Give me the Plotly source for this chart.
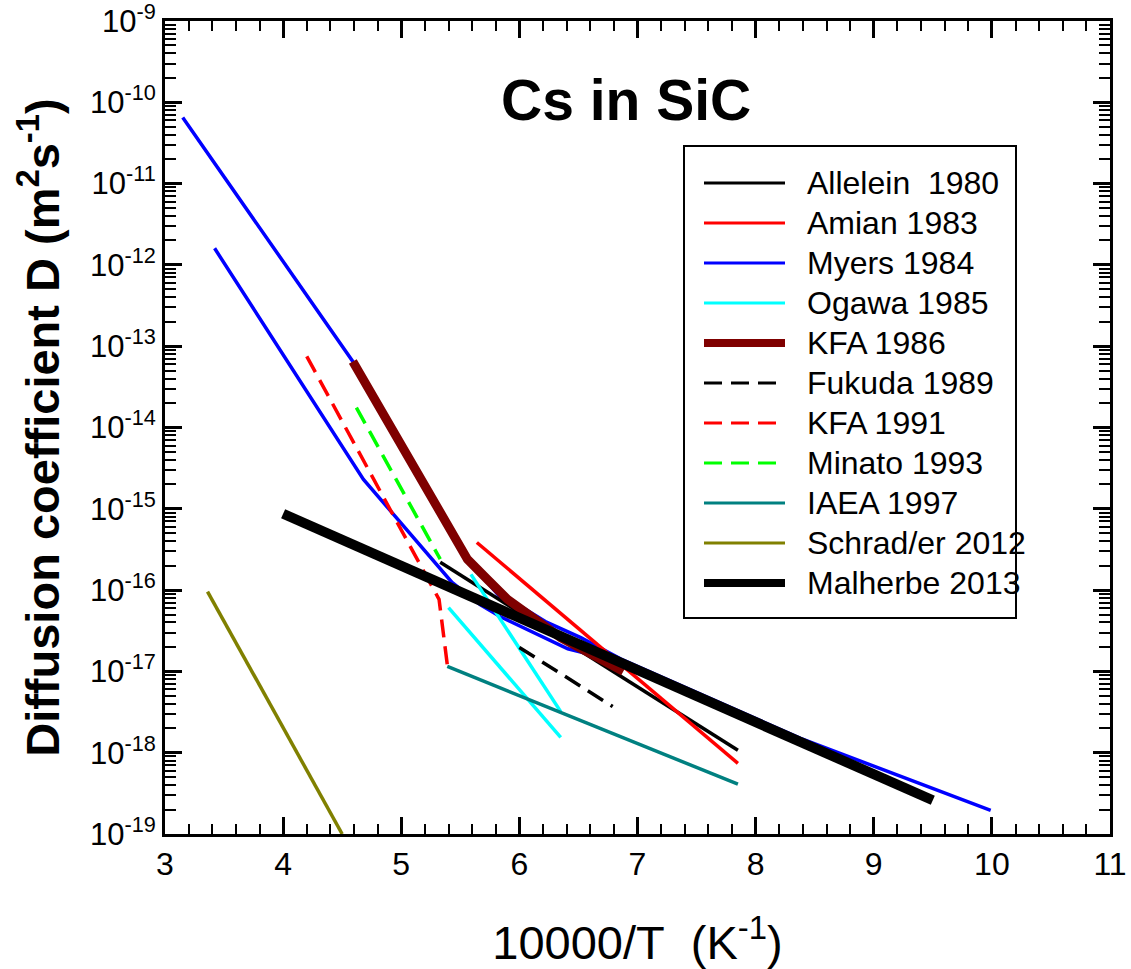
import plotly.graph_objects as go

# ---------------- data ----------------
allelein_x = [5.33, 7.85]
allelein_D = [2.2e-16, 1.07e-18]

amian_x = [5.64, 7.85]
amian_D = [3.85e-16, 7.4e-19]

myers_x = [3.15, 4.59, 5.56, 5.84, 6.01, 6.22, 6.52, 6.86, 8.38, 9.99, None,
           3.42, 4.68, 5.43, 5.67, 5.84, 6.12, 6.41, 6.69]
myers_D = [6.5e-11, 6.5e-14, 2.4e-16, 8.1e-17, 6.3e-17, 4.1e-17, 2.6e-17, 1.42e-17, 1.5e-18, 1.95e-19, None,
           1.6e-12, 2.3e-15, 1.24e-16, 6.6e-17, 4.7e-17, 3.0e-17, 1.9e-17, 1.5e-17]

ogawa_x = [5.59, 6.35, None, 5.40, 6.35]
ogawa_D = [1.56e-16, 3.2e-18, None, 6.1e-17, 1.54e-18]

kfa86_x = [4.59, 4.88, 5.19, 5.56, 5.73, 5.90, 6.35, 6.69, 6.88]
kfa86_D = [6.5e-14, 1.25e-14, 2.1e-15, 2.4e-16, 1.35e-16, 7.7e-17, 2.6e-17, 1.4e-17, 1.0e-17]

fukuda_x = [6.0, 6.79]
fukuda_D = [1.97e-17, 3.7e-18]

kfa91_x = [4.20, 5.32, 5.39]
kfa91_D = [7.5e-14, 7.7e-17, 1.2e-17]

minato_x = [4.62, 5.33]
minato_D = [1.76e-14, 2.4e-16]

iaea_x = [5.39, 7.85]
iaea_D = [1.15e-17, 4.1e-19]

schrad_x = [3.36, 4.5]
schrad_D = [9.6e-17, 1.0e-19]

malherbe_x = [4.0, 9.5]
malherbe_D = [8.7e-16, 2.6e-19]

series_names = ["Allelein\u00a0 1980", "Amian 1983", "Myers 1984", "Ogawa 1985", "KFA 1986",
                "Fukuda 1989", "KFA 1991", "Minato 1993", "IAEA 1997", "Schrad/er 2012",
                "Malherbe 2013"]

y_exponents = list(range(-19, -8))
x_ticks = [3, 4, 5, 6, 7, 8, 9, 10, 11]

# ---------------- styles ----------------
DASH = "18px,9px"
TH = 3.5
styles = {
    "Allelein\u00a0 1980": dict(color="#000000", width=TH, dash="solid"),
    "Amian 1983": dict(color="#FF0000", width=TH, dash="solid"),
    "Myers 1984": dict(color="#0000FF", width=TH, dash="solid"),
    "Ogawa 1985": dict(color="#00FFFF", width=TH, dash="solid"),
    "KFA 1986": dict(color="#7F0000", width=9, dash="solid"),
    "Fukuda 1989": dict(color="#000000", width=TH, dash=DASH),
    "KFA 1991": dict(color="#FF0000", width=TH, dash=DASH),
    "Minato 1993": dict(color="#00FF00", width=TH, dash=DASH),
    "IAEA 1997": dict(color="#008080", width=TH, dash="solid"),
    "Schrad/er 2012": dict(color="#808000", width=TH, dash="solid"),
    "Malherbe 2013": dict(color="#000000", width=10, dash="solid"),
}

data = {
    "Allelein\u00a0 1980": (allelein_x, allelein_D),
    "Amian 1983": (amian_x, amian_D),
    "Myers 1984": (myers_x, myers_D),
    "Ogawa 1985": (ogawa_x, ogawa_D),
    "KFA 1986": (kfa86_x, kfa86_D),
    "Fukuda 1989": (fukuda_x, fukuda_D),
    "KFA 1991": (kfa91_x, kfa91_D),
    "Minato 1993": (minato_x, minato_D),
    "IAEA 1997": (iaea_x, iaea_D),
    "Schrad/er 2012": (schrad_x, schrad_D),
    "Malherbe 2013": (malherbe_x, malherbe_D),
}

draw_order = ["Myers 1984", "Allelein\u00a0 1980", "Amian 1983", "Ogawa 1985", "Fukuda 1989",
              "KFA 1991", "Minato 1993", "IAEA 1997", "Schrad/er 2012", "KFA 1986", "Malherbe 2013"]

FONT = "Liberation Sans, Arial, Helvetica, sans-serif"

fig = go.Figure()
for name in draw_order:
    xs, ds = data[name]
    st = styles[name]
    fig.add_trace(go.Scatter(x=xs, y=ds, mode="lines", name=name, showlegend=False,
                             connectgaps=False,
                             line=dict(color=st["color"], width=st["width"], dash=st["dash"])))

# ---------------- layout ----------------
W, H = 1131, 969
ML, MR, MT, MB = 165, 21, 21, 135
PW, PH = W - ML - MR, H - MT - MB


def px2paper_x(px):
    return (px - ML) / PW


def px2paper_y(py):
    return (H - MB - py) / PH


minor_y = [k * 10.0 ** e for e in range(-19, -9) for k in range(2, 10)]

fig.update_layout(
    width=W, height=H,
    margin=dict(l=ML, r=MR, t=MT, b=MB, autoexpand=False),
    paper_bgcolor="white", plot_bgcolor="white",
    font=dict(family=FONT, color="black"),
    xaxis=dict(
        range=[3, 11], tickvals=x_ticks, ticktext=[str(v) for v in x_ticks],
        ticks="inside", ticklen=17, tickwidth=3, tickcolor="black",
        showline=True, linewidth=3, linecolor="black", mirror="allticks",
        showgrid=False, zeroline=False, automargin=False, ticklabeloverflow="allow",
        tickfont=dict(size=32, family=FONT),
        minor=dict(dtick=0.2, ticks="inside", ticklen=10, tickwidth=2, tickcolor="black", showgrid=False),
        title=dict(text="10000/T\u00a0 (K<sup>-1</sup>)", font=dict(size=47, family=FONT), standoff=45),
    ),
    yaxis=dict(
        type="log", range=[-19, -9],
        tickvals=[10.0 ** e for e in y_exponents],
        ticktext=["10<sup>%d</sup>" % e for e in y_exponents],
        ticks="inside", ticklen=17, tickwidth=3, tickcolor="black",
        showline=True, linewidth=3, linecolor="black", mirror="allticks",
        showgrid=False, zeroline=False, automargin=False, ticklabeloverflow="allow",
        tickfont=dict(size=31, family=FONT),
        minor=dict(tickvals=minor_y, ticks="inside", ticklen=11, tickwidth=2, tickcolor="black", showgrid=False),
        title=dict(text="Diffusion coefficient D (m<sup>2</sup>s<sup>-1</sup>)",
                   font=dict(size=47, family=FONT, weight="bold"), standoff=16),
    ),
)

# title inside the plot
fig.add_annotation(text="<b>Cs in SiC</b>", xref="paper", yref="paper",
                   x=px2paper_x(626), y=px2paper_y(100), xanchor="center", yanchor="middle",
                   showarrow=False, font=dict(size=57, family=FONT, color="black"))

# ---------------- legend box (drawn) ----------------
LX0, LX1, LY0, LY1 = 684, 1016, 146, 618
fig.add_shape(type="rect", xref="paper", yref="paper",
              x0=px2paper_x(LX0), x1=px2paper_x(LX1), y0=px2paper_y(LY1), y1=px2paper_y(LY0),
              line=dict(color="black", width=2), fillcolor="white", layer="above")
for i, name in enumerate(series_names):
    st = styles[name]
    ry = 183 + 40 * i
    lw = 3 if st["width"] < 5 else 8
    fig.add_shape(type="line", xref="paper", yref="paper",
                  x0=px2paper_x(704), x1=px2paper_x(785) if st["dash"] == "solid" else px2paper_x(778),
                  y0=px2paper_y(ry), y1=px2paper_y(ry),
                  line=dict(color=st["color"], width=lw, dash=st["dash"]), layer="above")
    fig.add_annotation(text=name, xref="paper", yref="paper",
                       x=px2paper_x(805), y=px2paper_y(ry), xanchor="left", yanchor="middle",
                       showarrow=False, font=dict(size=32, family=FONT, color="black"))

fig.write_html("out.html")
